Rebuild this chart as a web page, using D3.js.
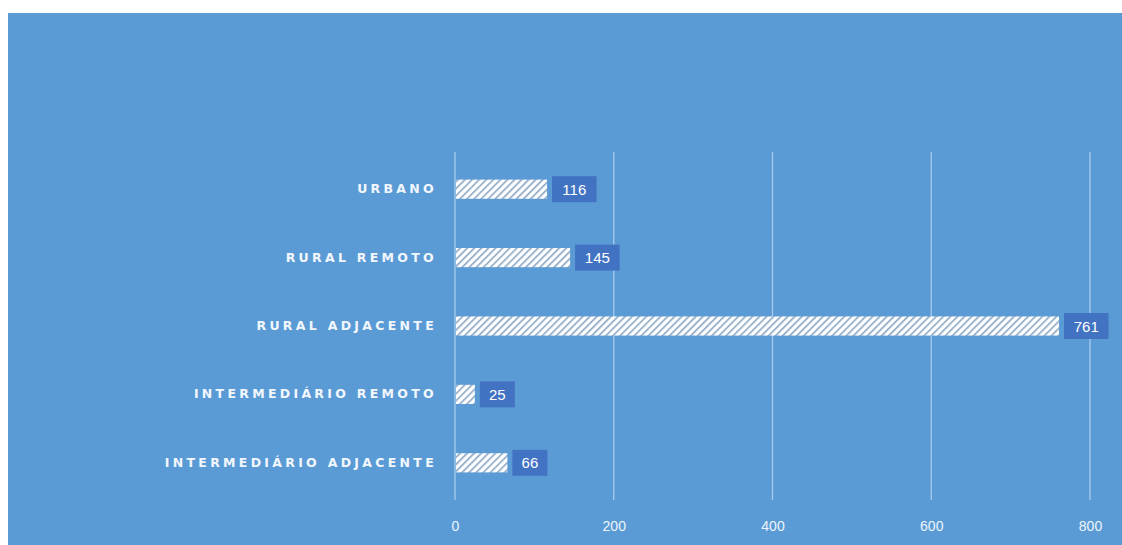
<!DOCTYPE html>
<html>
<head>
<meta charset="utf-8">
<script src="https://cdn.jsdelivr.net/npm/d3@7"></script>
<style>
  html, body { margin: 0; padding: 0; background: #ffffff; }
  svg { display: block; }
</style>
</head>
<body>
<svg id="chart" width="1122" height="545"></svg>
<script>
// Categories, top to bottom
const categories = [
  "URBANO",
  "RURAL REMOTO",
  "RURAL ADJACENTE",
  "INTERMEDIÁRIO REMOTO",
  "INTERMEDIÁRIO ADJACENTE"
];
const values = [116, 145, 761, 25, 66];
const xTicks = [0, 200, 400, 600, 800];

const W = 1122, H = 545;
const svg = d3.select("#chart");

// Hatch pattern for bars
const defs = svg.append("defs");
const pat = defs.append("pattern")
  .attr("id", "hatch")
  .attr("patternUnits", "userSpaceOnUse")
  .attr("width", 5).attr("height", 5)
  .attr("patternTransform", "rotate(45)");
pat.append("rect").attr("width", 5).attr("height", 5).attr("fill", "#ffffff");
pat.append("rect").attr("x", 0).attr("width", 1.6).attr("height", 5).attr("fill", "#8aa6c4");

// Panel background
svg.append("rect")
  .attr("x", 8).attr("y", 13)
  .attr("width", W - 8).attr("height", H - 13)
  .attr("fill", "#5b9bd5");

const x = d3.scaleLinear().domain([0, 800]).range([455, 1090]);
const y = d3.scaleBand().domain(categories).range([155, 497]).paddingInner(0.72).paddingOuter(0.36);

// Vertical gridlines
svg.append("g").selectAll("line")
  .data(xTicks)
  .join("line")
  .attr("x1", d => x(d)).attr("x2", d => x(d))
  .attr("y1", 152).attr("y2", 500)
  .attr("stroke", "#a6cbef")
  .attr("stroke-width", 1.3);

// X axis tick labels
const xAxis = d3.axisBottom(x).tickValues(xTicks).tickSize(0).tickPadding(0);
const gx = svg.append("g").attr("transform", "translate(0,521)").call(xAxis);
gx.select(".domain").remove();
gx.selectAll("text")
  .attr("fill", "#eef5fc")
  .attr("font-family", "Liberation Sans, Arial, sans-serif")
  .attr("font-size", 14);

// Category labels
const yAxis = d3.axisLeft(y).tickSize(0).tickPadding(0);
const gy = svg.append("g").attr("transform", "translate(437,0)").call(yAxis);
gy.select(".domain").remove();
gy.selectAll("text")
  .attr("fill", "#f2f7fd")
  .attr("font-family", "DejaVu Sans, sans-serif")
  .attr("font-weight", "bold")
  .attr("font-size", 12.5)
  .attr("letter-spacing", "3.3px");

// Bars
svg.append("g").selectAll("rect")
  .data(values)
  .join("rect")
  .attr("x", x(0) + 1)
  .attr("y", (d, i) => y(categories[i]))
  .attr("width", d => x(d) - x(0) - 1)
  .attr("height", y.bandwidth())
  .attr("fill", "url(#hatch)");

// Value labels in boxes
const boxW = d => String(d).length * 9.5 + 16;
const lab = svg.append("g").selectAll("g")
  .data(values)
  .join("g")
  .attr("transform", (d, i) => `translate(${x(d) + 5},${y(categories[i]) + y.bandwidth() / 2})`);
lab.append("rect")
  .attr("x", 0).attr("y", -13)
  .attr("width", boxW)
  .attr("height", 26)
  .attr("fill", "#4273c2");
lab.append("text")
  .attr("x", d => boxW(d) / 2)
  .attr("y", 5.5)
  .attr("text-anchor", "middle")
  .attr("fill", "#ffffff")
  .attr("font-family", "Liberation Sans, Arial, sans-serif")
  .attr("font-size", 15)
  .text(d => d);
</script>
</body>
</html>
